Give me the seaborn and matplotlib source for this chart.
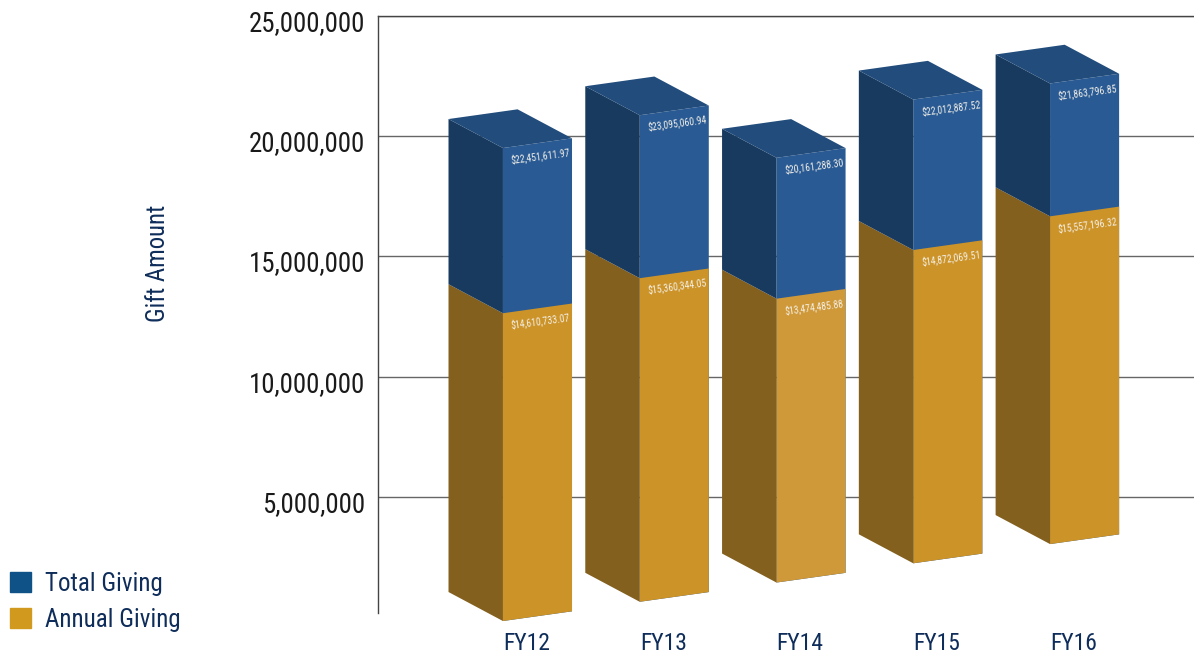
import matplotlib
matplotlib.use('Agg')
import matplotlib.pyplot as plt
import pandas as pd
import seaborn as sns
from matplotlib.patches import Patch
from matplotlib.ticker import StrMethodFormatter
from matplotlib.transforms import Affine2D, ScaledTranslation

# Values as printed on the bars
years = ['FY12', 'FY13', 'FY14', 'FY15', 'FY16']
total_giving = [22451611.97, 23095060.94, 20161288.30, 22012887.52, 21863796.85]
annual_giving = [14610733.07, 15360344.05, 13474485.88, 14872069.51, 15557196.32]
y_ticks = [5000000, 10000000, 15000000, 20000000, 25000000]

NAVY = '#0f2d5a'
NARROW = ['Roboto Condensed', 'Liberation Sans', 'DejaVu Sans']
BAR_WIDTH = 0.505

sns.set_style('white')
plt.rcParams['font.family'] = NARROW

df = pd.DataFrame({
    'year': years * 2,
    'amount': total_giving + annual_giving,
    'series': ['Total Giving'] * 5 + ['Annual Giving'] * 5,
})

fig = plt.figure(figsize=(11.94, 6.54), dpi=100)
ax = fig.add_axes([378 / 1194, 1 - 613 / 654, 1 - 378 / 1194, (613 - 16) / 654])

sns.barplot(data=df, x='year', y='amount', hue='series', dodge=False, width=BAR_WIDTH,
            hue_order=['Total Giving', 'Annual Giving'], saturation=1, linewidth=0,
            palette={'Total Giving': '#295a94', 'Annual Giving': '#cc9329'},
            legend=False, ax=ax)

ax.set_xlim(-1.166, 4.80)
ax.set_ylim(176000, 25000000)

# fake 3d: the front of the bars sits on a sheared plane, the depth is a fixed shift
SHEAR_X, SCALE_Y, SHIFT_Y = 800000, 0.876, 44000
DEPTH_X, DEPTH_Y = -0.398, 1206000
front = Affine2D.from_values(1, SHEAR_X, 0, SCALE_Y, 0, SHIFT_Y)


def on_plane(x, v, depth=0):
    px, py = front.transform((x, v))
    return px + depth * DEPTH_X, py + depth * DEPTH_Y


for bars in ax.containers:
    for bar in bars:
        bar.set_transform(front + ax.transData)
        bar.set_clip_on(False)
        bar.set_zorder(3)
# the FY14 annual bar is a touch lighter in the original
ax.containers[1][2].set_facecolor('#cf9838')


def side_face(i, low, high, color):
    left = i - BAR_WIDTH / 2
    pts = [on_plane(left, low), on_plane(left, high),
           on_plane(left, high, 1), on_plane(left, low, 1)]
    ax.fill(*zip(*pts), color=color, lw=0, clip_on=False, zorder=3)


for i in range(len(years)):
    side_face(i, 0, annual_giving[i], '#84601e')
    side_face(i, annual_giving[i], total_giving[i], '#183a5f')
    left, right = i - BAR_WIDTH / 2, i + BAR_WIDTH / 2
    top = total_giving[i]
    pts = [on_plane(left, top), on_plane(right, top),
           on_plane(right, top, 1), on_plane(left, top, 1)]
    ax.fill(*zip(*pts), color='#214c7b', lw=0, clip_on=False, zorder=3)

    for v in (total_giving[i], annual_giving[i]):
        ax.annotate(f'${v:,.2f}', xy=(i, v), xycoords=front + ax.transData,
                    xytext=(2.2, -9.3), textcoords='offset points', rotation=7.6,
                    rotation_mode='anchor', ha='center', va='center',
                    color='#f4f1e8', fontsize=7, zorder=4)

# axes
ax.set_yticks(y_ticks)
ax.yaxis.set_major_formatter(StrMethodFormatter('{x:,.0f}'))
ax.set_axisbelow(True)
ax.yaxis.grid(True, color='#666666', lw=1.0)
ax.xaxis.grid(False)
for side in ['right', 'bottom']:
    ax.spines[side].set_visible(False)
for side in ['left', 'top']:
    ax.spines[side].set_color('#444444')
    ax.spines[side].set_linewidth(1.0)
ax.tick_params(axis='y', length=0, pad=9, labelsize=19.4, labelcolor='#1a1a1a')
ax.tick_params(axis='x', length=0, pad=13.5, labelsize=17, labelcolor=NAVY)
for label in ax.get_yticklabels():
    label.set_transform(label.get_transform() + ScaledTranslation(0, -4.5 / 100, fig.dpi_scale_trans))
for label in ax.get_xticklabels():
    label.set_transform(label.get_transform() + ScaledTranslation(-11 / 100, 0, fig.dpi_scale_trans))
ax.set_xlabel('')
ax.set_ylabel('')

fig.text(158 / 1194, 1 - 263 / 654, 'Gift Amount', rotation=90, ha='center', va='center',
         color=NAVY, fontsize=17.7)

handles = [Patch(color='#0f5288', label='Total Giving'), Patch(color='#d2991f', label='Annual Giving')]
fig.legend(handles=handles, loc='lower left', bbox_to_anchor=(10 / 1194, 1 - 632 / 654), frameon=False,
           fontsize=18, labelcolor=NAVY, handlelength=0.84, handleheight=0.84, handletextpad=0.55,
           labelspacing=0.5, borderpad=0, borderaxespad=0)

fig.savefig('out.png', dpi=100)
